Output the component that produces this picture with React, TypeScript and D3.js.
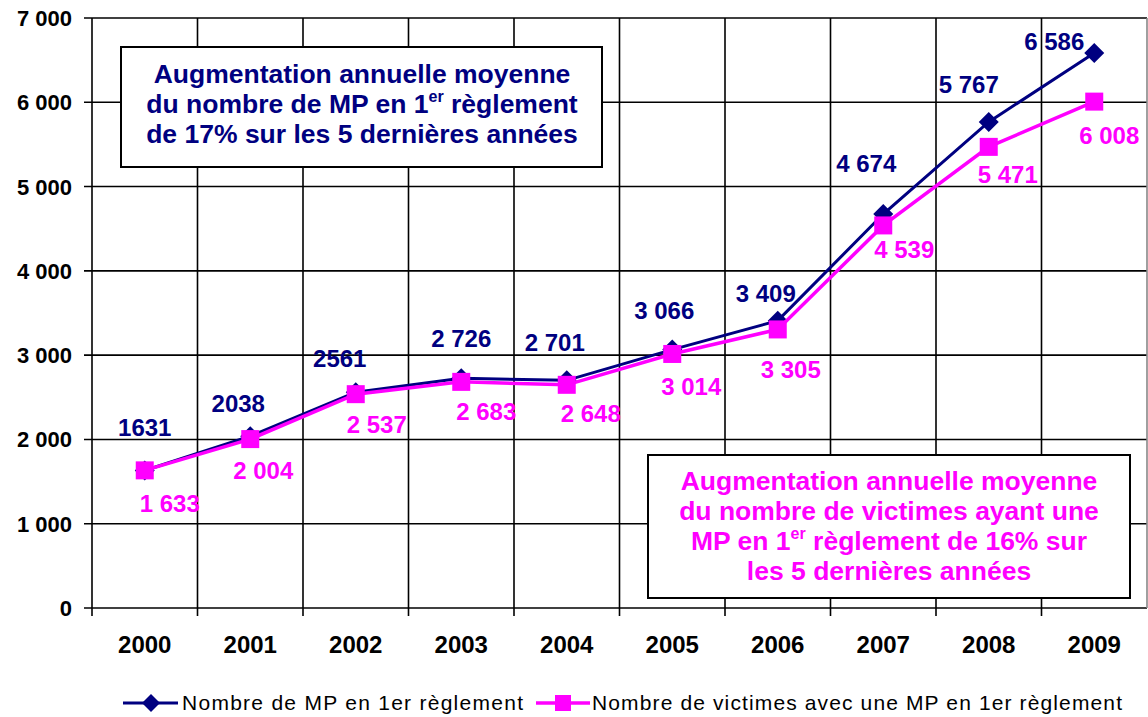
import React from "react";
import * as d3 from "d3";

const years = ["2000", "2001", "2002", "2003", "2004", "2005", "2006", "2007", "2008", "2009"];
const mpValues = [1631, 2038, 2561, 2726, 2701, 3066, 3409, 4674, 5767, 6586];
const mpLabels = ["1631", "2038", "2561", "2 726", "2 701", "3 066", "3 409", "4 674", "5 767", "6 586"];
const victimValues = [1633, 2004, 2537, 2683, 2648, 3014, 3305, 4539, 5471, 6008];
const victimLabels = ["1 633", "2 004", "2 537", "2 683", "2 648", "3 014", "3 305", "4 539", "5 471", "6 008"];
const yTicks = [0, 1000, 2000, 3000, 4000, 5000, 6000, 7000];
const seriesNames = ["Nombre de MP en 1er règlement", "Nombre de victimes avec une MP en 1er règlement"];

// label placement offsets (layout only)
const mpLabelOffsets = [[0, -35], [-12, -24], [-16, -25], [0, -31], [-12, -29], [-8, -31], [-12, -19], [-17, -42], [-20, -29], [-40, -3]];
const victimLabelOffsets = [[25, 42], [13, 40], [21, 39], [25, 38], [24, 37], [19, 41], [13, 49], [21, 33], [19, 36], [15, 42]];

const NAVY = "#000080";
const MAGENTA = "#FF00FF";
const FONT = "'Liberation Sans', Arial, sans-serif";

export default function App() {
  const W = 1148, H = 717;
  const left = 92, right = 1147, top = 18, bottom = 608;
  const x = d3.scaleBand<string>().domain(years).range([left, right]);
  const y = d3.scaleLinear().domain([0, 7000]).range([bottom, top]);
  const cx = (i: number) => (x(years[i]) as number) + x.bandwidth() / 2;

  const line = d3.line<number>().x((_, i) => cx(i)).y((v) => y(v));
  const boundaries = years.map((yr) => x(yr) as number).concat([right]);

  const diamond = (px: number, py: number, r: number) =>
    `M${px},${py - r}L${px + r},${py}L${px},${py + r}L${px - r},${py}Z`;

  return (
    <svg width={W} height={H} style={{ position: "absolute", left: 0, top: 0, background: "#fff" }} fontFamily={FONT}>
      <rect x={0} y={0} width={W} height={H} fill="#fff" />
      {/* horizontal gridlines + y ticks */}
      {yTicks.map((t) => (
        <g key={t}>
          <line x1={84} x2={right} y1={y(t)} y2={y(t)} stroke="#000" strokeWidth={1.6} />
          <text x={72} y={y(t) + 8} textAnchor="end" fontSize={22} fontWeight="bold" fill="#000">
            {d3.format(",")(t).replace(/,/g, " ")}
          </text>
        </g>
      ))}
      {/* vertical gridlines */}
      {boundaries.map((b, i) => (
        <line key={i} x1={b} x2={b} y1={top} y2={i === boundaries.length - 1 ? bottom : bottom + 8}
          stroke={i === boundaries.length - 1 ? "#888" : "#000"} strokeWidth={1.6} />
      ))}
      {/* x labels */}
      {years.map((yr, i) => (
        <text key={yr} x={cx(i)} y={653} textAnchor="middle" fontSize={24} fontWeight="bold" fill="#000">{yr}</text>
      ))}

      {/* series lines */}
      <path d={line(mpValues) || ""} fill="none" stroke={NAVY} strokeWidth={3} />
      {mpValues.map((v, i) => (
        <path key={i} d={diamond(cx(i), y(v), 10)} fill={NAVY} />
      ))}
      <path d={line(victimValues) || ""} fill="none" stroke={MAGENTA} strokeWidth={3.5} />
      {victimValues.map((v, i) => (
        <rect key={i} x={cx(i) - 9} y={y(v) - 9} width={18} height={18} fill={MAGENTA} />
      ))}

      {/* data labels */}
      {mpValues.map((v, i) => (
        <text key={i} x={cx(i) + mpLabelOffsets[i][0]} y={y(v) + mpLabelOffsets[i][1]} textAnchor="middle"
          fontSize={24} fontWeight="bold" fill={NAVY}>{mpLabels[i]}</text>
      ))}
      {victimValues.map((v, i) => (
        <text key={i} x={cx(i) + victimLabelOffsets[i][0]} y={y(v) + victimLabelOffsets[i][1]} textAnchor="middle"
          fontSize={24} fontWeight="bold" fill={MAGENTA}>{victimLabels[i]}</text>
      ))}

      {/* annotation box 1 */}
      <rect x={121} y={47} width={481} height={120} fill="#fff" stroke="#000" strokeWidth={2} />
      <g fontSize={26.5} fontWeight="bold" fill={NAVY} textAnchor="middle">
        <text x={362} y={83}>Augmentation annuelle moyenne</text>
        <text x={362} y={113}>du nombre de MP en 1<tspan fontSize={16} dy={-11}>er</tspan><tspan dy={11}> règlement</tspan></text>
        <text x={362} y={143}>de 17% sur les 5 dernières années</text>
      </g>

      {/* annotation box 2 */}
      <rect x={648} y={455} width={482} height={143} fill="#fff" stroke="#000" strokeWidth={2} />
      <g fontSize={26.5} fontWeight="bold" fill={MAGENTA} textAnchor="middle">
        <text x={889} y={490}>Augmentation annuelle moyenne</text>
        <text x={889} y={520}>du nombre de victimes ayant une</text>
        <text x={889} y={550}>MP en 1<tspan fontSize={16} dy={-11}>er</tspan><tspan dy={11}> règlement de 16% sur</tspan></text>
        <text x={889} y={580}>les 5 dernières années</text>
      </g>

      {/* legend */}
      <line x1={123} x2={178} y1={703} y2={703} stroke={NAVY} strokeWidth={3} />
      <path d={diamond(151, 703, 9)} fill={NAVY} />
      <text x={182} y={710} fontSize={21} fill="#000" textLength={341} lengthAdjust="spacing">{seriesNames[0]}</text>
      <line x1={536} x2={590} y1={703} y2={703} stroke={MAGENTA} strokeWidth={3.5} />
      <rect x={555} y={695} width={16} height={16} fill={MAGENTA} />
      <text x={592} y={710} fontSize={21} fill="#000" textLength={530} lengthAdjust="spacing">{seriesNames[1]}</text>
    </svg>
  );
}
